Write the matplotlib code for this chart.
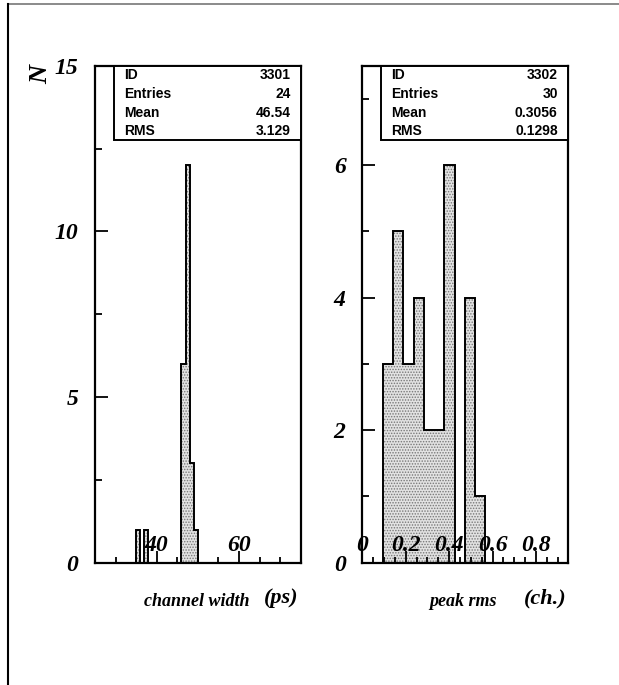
import numpy as np
import matplotlib
matplotlib.use('Agg')
import matplotlib.pyplot as plt
from matplotlib.lines import Line2D
from matplotlib.patches import Rectangle

# histogram contents
cw_range = (25, 75)
cw_nbins = 50
cw_counts = [0]*10 + [1, 0, 1] + [0]*8 + [6, 12, 3, 1] + [0]*25
cw_stats = ['3301', '24', '46.54', '3.129']

pr_range = (0, 0.945)
pr_nbins = 20
pr_counts = [0, 0, 3, 5, 3, 4, 2, 2, 6, 0, 4, 1] + [0]*8
pr_stats = ['3302', '30', '0.3056', '0.1298']

stat_names = ['ID', 'Entries', 'Mean', 'RMS']

# PAW look: bold italic Times everywhere except the stat boxes
plt.rcParams['font.family'] = ['Liberation Serif']
plt.rcParams['font.weight'] = 'bold'
plt.rcParams['font.style'] = 'italic'
plt.rcParams['hatch.color'] = '#777777'
plt.rcParams['hatch.linewidth'] = 0.7

fig = plt.figure(figsize=(6.19, 6.85), dpi=100)
fig.patch.set_facecolor('white')

# page frame
fig.add_artist(Line2D([8/619, 1], [1 - 3.5/685]*2, color='#777777', lw=1.2))
fig.add_artist(Line2D([8/619]*2, [0, 1 - 3.5/685], color='black', lw=1.5))

axL = fig.add_axes([0.1535, 0.1785, 0.3323, 0.7255])
axR = fig.add_axes([0.5853, 0.1785, 0.3316, 0.7255])


def draw_hist(ax, counts, rng, nbins, ylim):
    edges = np.linspace(rng[0], rng[1], nbins + 1)
    ax.stairs(counts, edges, fill=True, facecolor='#e2e2e2', hatch='......',
              edgecolor='#777777', linewidth=0)
    ax.stairs(counts, edges, baseline=0, color='black', linewidth=1.4)
    ax.set_xlim(rng)
    ax.set_ylim(ylim)
    for s in ax.spines.values():
        s.set_linewidth(1.6)
    ax.tick_params(which='both', direction='in', top=False, right=False,
                   width=1.3, labelsize=17)
    ax.tick_params(axis='y', which='major', length=9, pad=12)
    ax.tick_params(axis='y', which='minor', length=5)
    ax.tick_params(axis='x', which='major', length=9, pad=-20)
    ax.tick_params(axis='x', which='minor', length=4.5)


def stats_box(ax, values):
    ax.add_patch(Rectangle((0.092, 0.8505), 0.908, 0.1495, transform=ax.transAxes,
                           facecolor='white', edgecolor='black', lw=1.4, zorder=5))
    for i, (name, val) in enumerate(zip(stat_names, values)):
        y = 0.981 - i * 0.0377
        ax.text(0.141, y, name, transform=ax.transAxes, ha='left', va='center',
                family='Liberation Sans', style='normal', weight='bold',
                fontsize=10, zorder=6)
        ax.text(0.952, y, val, transform=ax.transAxes, ha='right', va='center',
                family='Liberation Sans', style='normal', weight='bold',
                fontsize=10, zorder=6)


# left: channel width
axL.set_xticks([40, 60])
axL.set_xticks(np.arange(30, 75, 5), minor=True)
axL.set_yticks([0, 5, 10, 15])
axL.set_yticks([2.5, 7.5, 12.5], minor=True)
draw_hist(axL, cw_counts, cw_range, cw_nbins, (0, 15))
stats_box(axL, cw_stats)

# right: peak rms
axR.set_xticks([0, 0.2, 0.4, 0.6, 0.8])
axR.set_xticklabels(['0', '0.2', '0.4', '0.6', '0.8'])
axR.set_xticks(np.arange(0.05, 0.95, 0.05), minor=True)
axR.set_yticks([0, 2, 4, 6])
axR.set_yticks([1, 3, 5, 7], minor=True)
draw_hist(axR, pr_counts, pr_range, pr_nbins, (0, 7.5))
stats_box(axR, pr_stats)

fig.text(41/619, 1 - 74/685, 'N', rotation=90, ha='center', va='center',
         fontsize=19)
fig.text(197/619, 1 - 602/685, 'channel width', ha='center', va='center',
         fontsize=13)
fig.text(281/619, 1 - 598/685, '(ps)', ha='center', va='center', fontsize=16)
fig.text(463/619, 1 - 602/685, 'peak rms', ha='center', va='center',
         fontsize=13)
fig.text(545/619, 1 - 598/685, '(ch.)', ha='center', va='center', fontsize=16)

fig.savefig('out.png', dpi=100)
